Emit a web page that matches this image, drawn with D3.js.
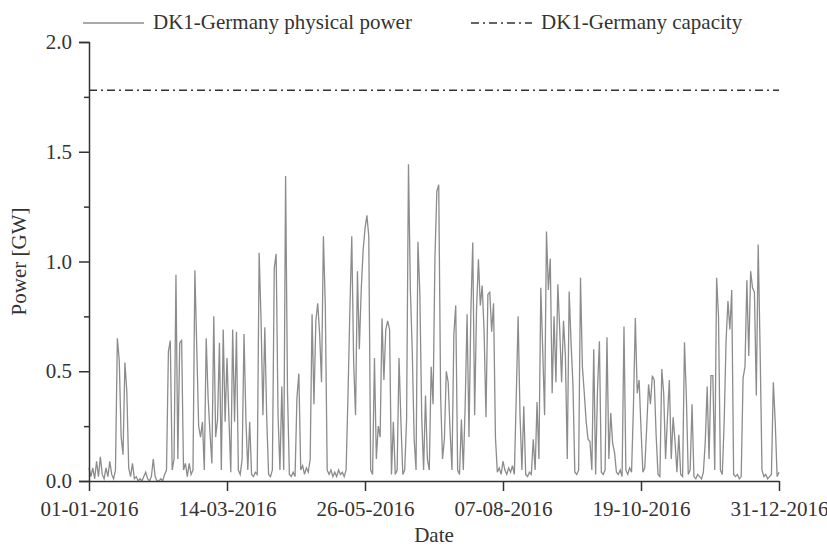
<!DOCTYPE html>
<html>
<head>
<meta charset="utf-8">
<script src="https://cdn.jsdelivr.net/npm/d3@7"></script>
<style>
  body { margin: 0; background: #fff; }
</style>
</head>
<body>
<div id="chart"></div>
<script>

// chart size and plot margins
const width = 827;
const height = 548;
const margin = {left: 89, right: 48, top: 42, bottom: 67};
const serif = "'Liberation Serif', 'Times New Roman', serif";

// legend names
const seriesNames = ["DK1-Germany physical power", "DK1-Germany capacity"];

// first day of the daily series
const startDate = "2016-01-01";

// daily physical power flow [GW] (366 days of 2016)
const power = [
  0.06, 0.02, 0.06, 0.01, 0.09, 0.02, 0.11, 0.03, 0.01, 0.06,
  0.02, 0.09, 0.03, 0.01, 0.05, 0.65, 0.55, 0.2, 0.12, 0.54,
  0.41, 0.06, 0.02, 0.08, 0.01, 0.02, 0.0, 0.01, 0.0, 0.02,
  0.04, 0.01, 0.0, 0.02, 0.1, 0.02, 0.0, 0.0, 0.01, 0.0,
  0.03, 0.05, 0.59, 0.64, 0.05, 0.1, 0.94, 0.1, 0.63, 0.64,
  0.05, 0.08, 0.02, 0.08, 0.03, 0.05, 0.96, 0.61, 0.25, 0.2,
  0.27, 0.05, 0.65, 0.38, 0.22, 0.08, 0.75, 0.2, 0.28, 0.63,
  0.05, 0.69, 0.27, 0.56, 0.29, 0.04, 0.69, 0.27, 0.68, 0.05,
  0.03, 0.1, 0.67, 0.28, 0.05, 0.27, 0.03, 0.02, 0.04, 0.03,
  1.04, 0.74, 0.3, 0.7, 0.29, 0.03, 0.02, 0.05, 0.97, 1.035,
  0.3, 0.05, 0.43, 0.05, 1.39, 0.41, 0.03, 0.02, 0.04, 0.02,
  0.38, 0.49, 0.05, 0.07, 0.03, 0.06, 0.04, 0.1, 0.76, 0.35,
  0.73, 0.81, 0.67, 0.45, 1.115, 0.8, 0.05, 0.03, 0.05, 0.02,
  0.04, 0.02, 0.05, 0.03, 0.04, 0.02, 0.05, 0.39, 0.78, 1.115,
  0.54, 0.3, 0.955, 0.6, 0.87, 1.05, 1.15, 1.21, 1.115, 0.05,
  0.03, 0.56, 0.1, 0.25, 0.2, 0.74, 0.46, 0.69, 0.73, 0.69,
  0.03, 0.27, 0.03, 0.05, 0.56, 0.27, 0.03, 0.05, 0.28, 1.443,
  0.87, 0.59, 0.19, 0.05, 1.09, 0.86, 0.29, 0.05, 0.39, 0.1,
  0.05, 0.52, 0.35, 1.017, 1.32, 1.35, 0.39, 0.1, 0.19, 0.5,
  0.45, 0.23, 0.05, 0.67, 0.8, 0.05, 0.03, 0.28, 0.05, 0.35,
  0.76, 0.2, 0.77, 1.087, 0.3, 0.78, 1.01, 0.8, 0.89, 0.68,
  0.29, 0.85, 0.86, 0.68, 0.81, 0.2, 0.04, 0.06, 0.03, 0.09,
  0.05, 0.03, 0.06, 0.04, 0.07, 0.03, 0.38, 0.75, 0.3, 0.05,
  0.34, 0.03, 0.02, 0.04, 0.03, 0.19, 0.05, 0.36, 0.1, 0.88,
  0.6, 0.3, 1.137, 0.87, 1.013, 0.4, 0.75, 0.45, 0.896, 0.69,
  0.45, 0.73, 0.57, 0.1, 0.863, 0.63, 0.44, 0.04, 0.03, 0.05,
  0.926, 0.52, 0.4, 0.27, 0.19, 0.18, 0.05, 0.6, 0.03, 0.42,
  0.637, 0.04, 0.03, 0.05, 0.655, 0.1, 0.31, 0.17, 0.13, 0.04,
  0.03, 0.05, 0.02, 0.704, 0.05, 0.03, 0.06, 0.04, 0.34, 0.742,
  0.4, 0.46, 0.24, 0.04, 0.06, 0.24, 0.44, 0.35, 0.48, 0.46,
  0.21, 0.03, 0.02, 0.51, 0.4, 0.1, 0.29, 0.46, 0.1, 0.29,
  0.18, 0.04, 0.21, 0.03, 0.02, 0.632, 0.38, 0.03, 0.05, 0.35,
  0.02, 0.01, 0.03, 0.02, 0.01, 0.04, 0.18, 0.43, 0.1, 0.48,
  0.48, 0.05, 0.926, 0.75, 0.05, 0.03, 0.27, 0.64, 0.82, 0.69,
  0.87, 0.03, 0.02, 0.03, 0.01, 0.02, 0.47, 0.52, 0.914, 0.57,
  0.956, 0.88, 0.86, 0.39, 1.077, 0.6, 0.05, 0.02, 0.03, 0.01,
  0.02, 0.03, 0.45, 0.27, 0.02, 0.04
];

// interconnector capacity [GW]
const capacity = 1.78;

// axis ticks
const xTickLabels = ["01-01-2016", "14-03-2016", "26-05-2016", "07-08-2016", "19-10-2016", "31-12-2016"];
const yTicks = [0, 0.5, 1, 1.5, 2];
const yMinorTicks = [0.25, 0.75, 1.25, 1.75];

const parseTick = d3.utcParse("%d-%m-%Y");
const start = d3.utcParse("%Y-%m-%d")(startDate);
const data = power.map((v, i) => ({date: d3.utcDay.offset(start, i), value: v}));

const svg = d3.select("#chart")
  .append("svg")
  .attr("width", width)
  .attr("height", height);

// scales
const xScale = d3.scaleUtc()
  .domain([parseTick(xTickLabels[0]), parseTick(xTickLabels[xTickLabels.length - 1])])
  .range([margin.left, width - margin.right]);

const yScale = d3.scaleLinear()
  .domain([0, 2])
  .range([height - margin.bottom, margin.top]);

// physical power line
const line = d3.line()
  .x(d => xScale(d.date))
  .y(d => yScale(d.value));

svg.append("path")
  .datum(data)
  .attr("fill", "none")
  .attr("stroke", "#8c8c8c")
  .attr("stroke-width", 1.3)
  .attr("d", line);

// capacity line
svg.append("line")
  .attr("x1", xScale.range()[0])
  .attr("x2", xScale.range()[1])
  .attr("y1", yScale(capacity))
  .attr("y2", yScale(capacity))
  .attr("stroke", "#333")
  .attr("stroke-width", 1.4)
  .attr("stroke-dasharray", "8,4,2,4");

// y axis minor ticks
svg.append("g")
  .attr("transform", `translate(${margin.left},0)`)
  .call(d3.axisLeft(yScale).tickValues(yMinorTicks).tickSize(5).tickFormat(""))
  .call(g => g.select(".domain").remove())
  .selectAll("line").attr("stroke", "#333").attr("stroke-width", 1.5);

// y axis
const yAxis = svg.append("g")
  .attr("transform", `translate(${margin.left},0)`)
  .call(d3.axisLeft(yScale)
    .tickValues(yTicks)
    .tickSize(10)
    .tickSizeOuter(10)
    .tickPadding(7)
    .tickFormat(d3.format(".1f")));
yAxis.selectAll("path, line").attr("stroke", "#333").attr("stroke-width", 1.5);
yAxis.selectAll("text")
  .attr("fill", "#333")
  .style("font-family", serif)
  .style("font-size", "21px");

// x axis
const xAxis = svg.append("g")
  .attr("transform", `translate(0,${height - margin.bottom})`)
  .call(d3.axisBottom(xScale)
    .tickValues(xTickLabels.map(parseTick))
    .tickSize(10)
    .tickSizeOuter(0)
    .tickPadding(10)
    .tickFormat(d3.utcFormat("%d-%m-%Y")));
xAxis.selectAll("path, line").attr("stroke", "#333").attr("stroke-width", 1.5);
xAxis.selectAll("text")
  .attr("fill", "#333")
  .style("font-family", serif)
  .style("font-size", "21px");

// axis titles
svg.append("text")
  .attr("x", (xScale.range()[0] + xScale.range()[1]) / 2)
  .attr("y", 542)
  .attr("text-anchor", "middle")
  .attr("fill", "#333")
  .style("font-family", serif)
  .style("font-size", "21px")
  .text("Date");

svg.append("text")
  .attr("transform", `translate(26,${(yScale.range()[0] + yScale.range()[1]) / 2}) rotate(-90)`)
  .attr("text-anchor", "middle")
  .attr("fill", "#333")
  .style("font-family", serif)
  .style("font-size", "21px")
  .text("Power [GW]");

// legend
const legend = [
  {name: seriesNames[0], x: 83, stroke: "#8c8c8c", dash: null, width: 1.3},
  {name: seriesNames[1], x: 471, stroke: "#333", dash: "8,4,2,4", width: 1.4}
];

const lg = svg.selectAll(".legend")
  .data(legend)
  .enter()
  .append("g")
  .attr("class", "legend")
  .attr("transform", d => `translate(${d.x},23)`);

lg.append("line")
  .attr("x1", 0)
  .attr("x2", 61)
  .attr("stroke", d => d.stroke)
  .attr("stroke-width", d => d.width)
  .attr("stroke-dasharray", d => d.dash);

lg.append("text")
  .attr("x", 70)
  .attr("y", 6)
  .attr("fill", "#333")
  .style("font-family", serif)
  .style("font-size", "21px")
  .text(d => d.name);

</script>
</body>
</html>
